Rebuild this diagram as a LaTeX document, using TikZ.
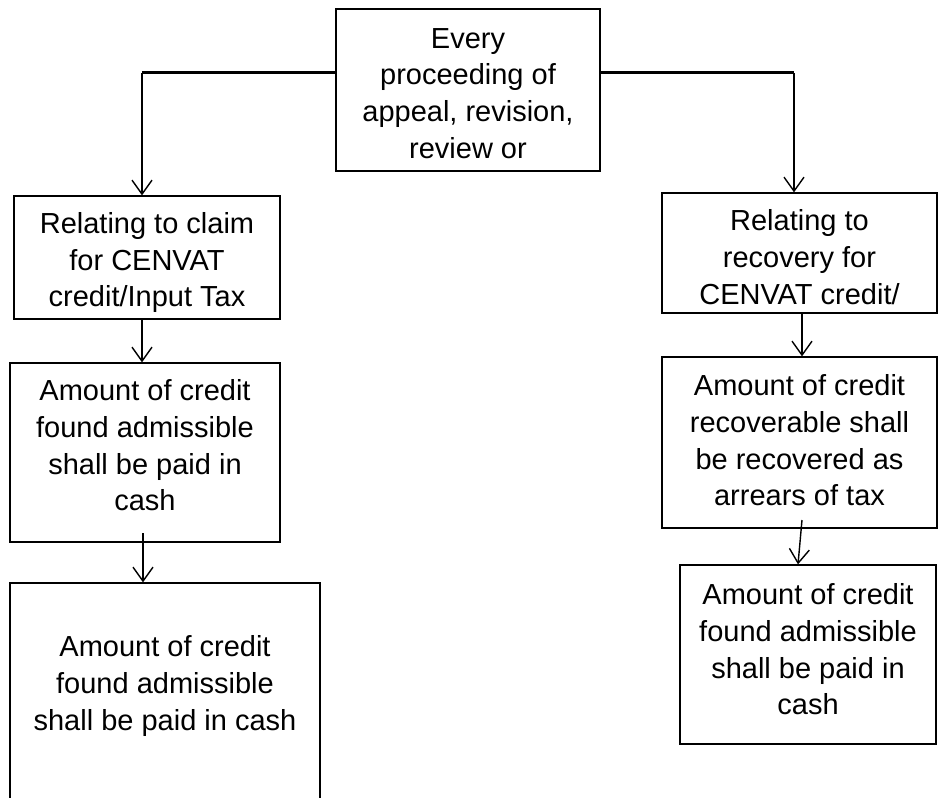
\documentclass[tikz,border=0pt]{standalone}
\usepackage{fontspec}
\setmainfont{Liberation Sans}
\usetikzlibrary{arrows.meta}
\begin{document}
\begin{tikzpicture}[x=1pt,y=-1pt,
  box/.style={draw=black,line width=1.3pt,rectangle,inner sep=0pt},
  txt/.style={inner sep=0pt,align=center,font=\fontsize{29}{36.7}\selectfont},
  conn/.style={line width=1.4pt,-{Straight Barb[length=14pt,width=20pt,line width=1.4pt]}},
  thickline/.style={line width=3pt}]
\useasboundingbox (0,0) rectangle (938,798);
\clip (0,0) rectangle (938,798);
\node[box,minimum width=264pt,minimum height=162pt] (top) at (468,90) {};
\node[txt] (topt) at (468,93.5) {Every\\proceeding of\\appeal, revision,\\review or};
\node[box,minimum width=266pt,minimum height=123pt] (l1) at (147,257.5) {};
\node[txt] (l1t) at (147,262.5) {Relating to claim\\for CENVAT\\credit/Input Tax};
\node[box,minimum width=270pt,minimum height=179pt] (l2) at (145,452.5) {};
\node[txt] (l2t) at (145,445.5) {Amount of credit\\found admissible\\shall be paid in\\cash};
\node[box,minimum width=310pt,minimum height=230pt] (l3) at (165,698) {};
\node[txt] (l3t) at (165,686) {Amount of credit\\found admissible\\shall be paid in cash};
\node[box,minimum width=275pt,minimum height=120pt] (r1) at (799.5,253) {};
\node[txt] (r1t) at (799.5,257) {Relating to\\recovery for\\CENVAT credit/};
\node[box,minimum width=275pt,minimum height=171pt] (r2) at (799.5,442.5) {};
\node[txt] (r2t) at (799.5,440.5) {Amount of credit\\recoverable shall\\be recovered as\\arrears of tax};
\node[box,minimum width=256pt,minimum height=179pt] (r3) at (808,654.5) {};
\node[txt] (r3t) at (808,649.5) {Amount of credit\\found admissible\\shall be paid in\\cash};
\coordinate (cl) at (142,72);
\coordinate (cr) at (794,72);
\draw[thickline] (top.west |- cl) -- (cl);
\draw[thickline] (top.east |- cr) -- (cr);
\draw[conn] ([yshift=-1.4pt]cl) -- (cl |- l1.north);
\draw[conn] ([yshift=-1.4pt]cr) -- (cr |- r1.north);
\coordinate (a1) at (142,0);
\draw[conn] (a1 |- l1.south) -- (a1 |- l2.north);
\coordinate (a2) at (143,533);
\draw[conn] (a2) -- (a2 |- l3.north);
\coordinate (a3) at (802,0);
\draw[conn] (a3 |- r1.south) -- (a3 |- r2.north);
\coordinate (a4) at (802,520);
\coordinate (a5) at (798,0);
\draw[conn] (a4) -- (a5 |- r3.north);
\end{tikzpicture}
\end{document}
